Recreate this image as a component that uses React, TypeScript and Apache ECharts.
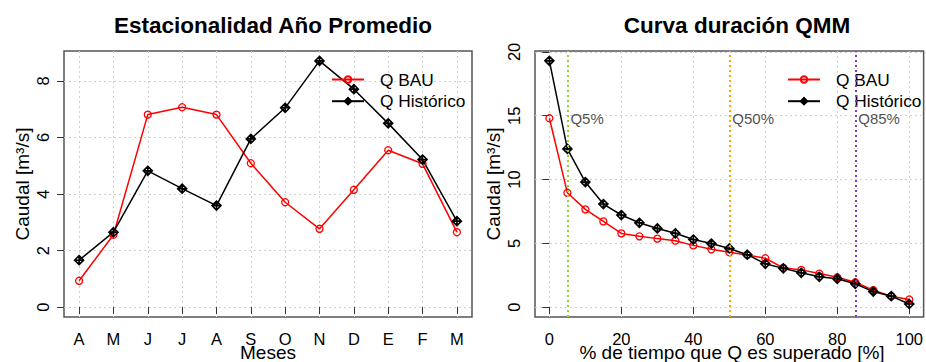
import React, { useEffect, useRef } from "react";
import * as echarts from "echarts";

const months = ["A", "M", "J", "J", "A", "S", "O", "N", "D", "E", "F", "M"];
const monthPos = [1, 2, 3, 4, 5, 6, 7, 8, 9, 10, 11, 12];
const bauMonthly = [0.93, 2.56, 6.81, 7.07, 6.81, 5.09, 3.71, 2.77, 4.15, 5.55, 5.07, 2.65];
const histMonthly = [1.66, 2.65, 4.82, 4.19, 3.59, 5.95, 7.05, 8.71, 7.71, 6.5, 5.22, 3.04];

const exceedance = [0, 5, 10, 15, 20, 25, 30, 35, 40, 45, 50, 55, 60, 65, 70, 75, 80, 85, 90, 95, 100];
const bauDuration = [14.8, 8.96, 7.66, 6.72, 5.78, 5.55, 5.37, 5.21, 4.84, 4.53, 4.3, 4.09, 3.83, 3.08, 2.92, 2.63, 2.34, 1.95, 1.33, 0.86, 0.6];
const histDuration = [19.3, 12.4, 9.8, 8.08, 7.22, 6.61, 6.17, 5.79, 5.3, 4.98, 4.6, 4.11, 3.4, 3.04, 2.69, 2.38, 2.22, 1.83, 1.22, 0.86, 0.25];

const leftYTicks = [0, 2, 4, 6, 8];
const rightXTicks = [0, 20, 40, 60, 80, 100];
const rightYTicks = [0, 5, 10, 15, 20];

const qPercents = [5, 50, 85];
const qNames = ["Q5%", "Q50%", "Q85%"];
const qColors = ["#9acd32", "#ffa500", "#7b3fc4"];
const qLabelY = 14.8;

const FONT = "'Liberation Sans', Arial, Helvetica, sans-serif";
const DIAMOND = "path://M5,0L10,5L5,10L0,5Z M5,0L5,10 M0,5L10,5";

export default function App() {
  const ref = useRef<HTMLDivElement>(null);
  useEffect(() => {
    if (!ref.current) return;
    const chart = echarts.init(ref.current, undefined, { renderer: "svg" });
    const gridLine = { show: true, lineStyle: { color: "#d0d0d0", type: [2, 3], width: 1 } };
    const tick = { show: true, inside: false, length: 7, lineStyle: { color: "#333", width: 1 } };
    const lbl = { color: "#000", fontSize: 16.5, fontFamily: FONT };
    const bauStyle = {
      symbol: "circle",
      symbolSize: 7,
      lineStyle: { color: "#ff0000", width: 1.5 },
      itemStyle: { color: "rgba(0,0,0,0)", borderColor: "#ff0000", borderWidth: 1.3 },
    };
    const histStyle = {
      symbol: DIAMOND,
      symbolSize: 9,
      lineStyle: { color: "#000", width: 1.5 },
      itemStyle: { color: "rgba(0,0,0,0)", borderColor: "#000", borderWidth: 1.6 },
    };
    const legendBase = {
      data: ["Q BAU", "Q Histórico"], orient: "vertical", top: 66, itemWidth: 32, itemHeight: 8,
      itemGap: 4.7, selectedMode: false,
      textStyle: { fontSize: 17.3, lineHeight: 17, color: "#000", fontFamily: FONT, padding: [0, 0, 0, 11] },
    };
    chart.setOption({
      animation: false,
      textStyle: { fontFamily: FONT },
      title: [
        { text: "Estacionalidad Año Promedio", left: 268, top: 9, textAlign: "center",
          textStyle: { fontSize: 22.5, fontWeight: "bold", color: "#000", fontFamily: FONT } },
        { text: "Curva duración QMM", left: 732, top: 9, textAlign: "center",
          textStyle: { fontSize: 22.5, fontWeight: "bold", color: "#000", fontFamily: FONT } },
      ],
      legend: [
        { ...legendBase, left: 326 },
        { ...legendBase, left: 782 },
      ],
      grid: [
        { left: 64, top: 51, width: 408, height: 266, show: true, borderColor: "#555", borderWidth: 1.5, backgroundColor: "transparent" },
        { left: 535, top: 51, width: 393, height: 266, show: true, borderColor: "#555", borderWidth: 1.5, backgroundColor: "transparent" },
      ],
      xAxis: [
        { type: "value", gridIndex: 0, min: 0.56, max: 12.44,
          axisLine: { show: false }, axisTick: { ...tick, customValues: monthPos },
          axisLabel: { ...lbl, margin: 13, customValues: monthPos, formatter: (v: number) => months[Math.round(v) - 1] ?? "" },
          splitLine: { ...gridLine, customValues: monthPos } },
        { type: "value", gridIndex: 1, min: -4, max: 104,
          axisLine: { show: false }, axisTick: { ...tick, customValues: rightXTicks },
          axisLabel: { ...lbl, margin: 13, customValues: rightXTicks },
          splitLine: { ...gridLine, customValues: rightXTicks } },
      ],
      yAxis: [
        { type: "value", gridIndex: 0, min: -0.35, max: 9.06,
          axisLine: { show: false }, axisTick: { ...tick, customValues: leftYTicks },
          axisLabel: { ...lbl, rotate: 90, margin: 13, customValues: leftYTicks },
          splitLine: { ...gridLine, customValues: leftYTicks } },
        { type: "value", gridIndex: 1, min: -0.772, max: 20.072,
          axisLine: { show: false }, axisTick: { ...tick, customValues: rightYTicks },
          axisLabel: { ...lbl, rotate: 90, margin: 13, customValues: rightYTicks },
          splitLine: { ...gridLine, customValues: rightYTicks } },
      ],
      graphic: [
        { type: "text", x: 22, y: 184, rotation: Math.PI / 2,
          style: { text: "Caudal [m³/s]", fontSize: 19, fontFamily: FONT, fill: "#000", align: "center", verticalAlign: "middle" } },
        { type: "text", x: 493, y: 184, rotation: Math.PI / 2,
          style: { text: "Caudal [m³/s]", fontSize: 19, fontFamily: FONT, fill: "#000", align: "center", verticalAlign: "middle" } },
        { type: "text", x: 268, y: 352,
          style: { text: "Meses", fontSize: 19, fontFamily: FONT, fill: "#000", align: "center", verticalAlign: "middle" } },
        { type: "text", x: 732, y: 352,
          style: { text: "% de tiempo que Q es superado [%]", fontSize: 19, fontFamily: FONT, fill: "#000", align: "center", verticalAlign: "middle" } },
      ],
      series: [
        { name: "Q BAU", type: "line", xAxisIndex: 0, yAxisIndex: 0, ...bauStyle,
          data: monthPos.map((x, i) => [x, bauMonthly[i]]) },
        { name: "Q Histórico", type: "line", xAxisIndex: 0, yAxisIndex: 0, ...histStyle,
          data: monthPos.map((x, i) => [x, histMonthly[i]]) },
        { name: "Q BAU", type: "line", xAxisIndex: 1, yAxisIndex: 1, ...bauStyle,
          data: exceedance.map((x, i) => [x, bauDuration[i]]),
          markLine: {
            silent: true, symbol: "none", label: { show: false },
            data: qPercents.map((p, i) => ({ xAxis: p, lineStyle: { color: qColors[i], type: [2, 3], width: 2 } })),
          } },
        { name: "Q Histórico", type: "line", xAxisIndex: 1, yAxisIndex: 1, ...histStyle,
          data: exceedance.map((x, i) => [x, histDuration[i]]) },
        { name: "qlabels", type: "scatter", xAxisIndex: 1, yAxisIndex: 1, symbolSize: 0, silent: true,
          data: qPercents.map((p, i) => ({ value: [p, qLabelY], name: qNames[i] })),
          label: { show: true, position: "right", distance: 3, formatter: (d: any) => d.name,
            fontSize: 15, color: "#222", fontFamily: FONT } },
      ],
    });
    return () => chart.dispose();
  }, []);
  return <div ref={ref} style={{ position: "absolute", left: 0, top: 0, width: 926, height: 362 }} />;
}
